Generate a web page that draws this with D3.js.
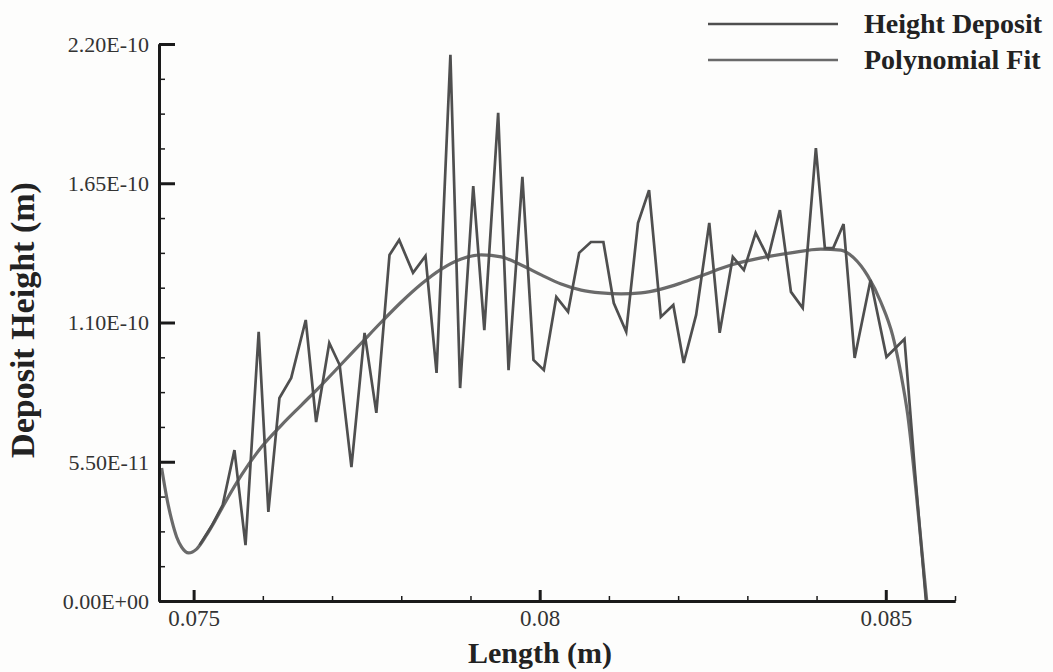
<!DOCTYPE html>
<html>
<head>
<meta charset="utf-8">
<script src="https://cdn.jsdelivr.net/npm/d3@7"></script>
<style>
  html, body { margin: 0; padding: 0; background: #fdfdfc; }
  svg { display: block; }
</style>
</head>
<body>
<script>
// ---- data ----
const depositX = [0.075087,0.07526,0.07542,0.07559,0.07575,0.07594,0.07608,0.07624,0.07641,0.07662,
  0.07677,0.07696,0.07711,0.07728,0.07747,0.07764,0.07783,0.07797,0.07817,0.07835,
  0.07851,0.07871,0.07885,0.07904,0.07920,0.07940,0.07955,0.07975,0.07991,0.08006,
  0.08024,0.08041,0.08057,0.08074,0.08092,0.08107,0.08125,0.08142,0.08158,0.08175,
  0.08193,0.08208,0.08226,0.08245,0.08260,0.08279,0.08295,0.08312,0.08330,0.08347,
  0.08363,0.08380,0.08399,0.08412,0.08424,0.08439,0.08455,0.08478,0.08501,0.08527,
  0.08542,0.08558];
const depositY = [22.1e-12,29.6e-12,37.9e-12,59.6e-12,22.1e-12,106.3e-12,35.2e-12,80.2e-12,88.1e-12,111.0e-12,
  70.7e-12,101.9e-12,93.2e-12,52.9e-12,105.9e-12,74.3e-12,136.7e-12,142.6e-12,129.6e-12,136.3e-12,
  90.1e-12,215.7e-12,84.1e-12,163.9e-12,107.0e-12,192.8e-12,91.2e-12,167.5e-12,95.2e-12,91.2e-12,
  120.1e-12,114.2e-12,137.5e-12,141.8e-12,141.8e-12,117.7e-12,106.3e-12,149.3e-12,162.3e-12,112.2e-12,
  116.9e-12,94.0e-12,113.0e-12,149.3e-12,105.9e-12,135.9e-12,130.7e-12,145.4e-12,135.5e-12,154.4e-12,
  122.1e-12,115.7e-12,178.9e-12,139.4e-12,139.4e-12,148.9e-12,96.0e-12,126.8e-12,96.4e-12,103.5e-12,
  51.7e-12,0];

const fitX = [0.074538,0.074610,0.074683,0.074755,0.074827,0.074928,0.075043,0.075188,0.075332,0.075476,
  0.075693,0.075981,0.076270,0.076558,0.076847,0.077136,0.077424,0.077713,0.078001,0.078290,
  0.078579,0.078867,0.079156,0.079444,0.079733,0.080022,0.080310,0.080599,0.080887,0.081176,
  0.081465,0.081753,0.082042,0.082330,0.082763,0.083196,0.083629,0.084062,0.084351,0.084538,
  0.084740,0.084928,0.085101,0.085216,0.085317,0.085433,0.085548,0.085592];
const fitY = [52.5e-12,41.1e-12,32.0e-12,25.3e-12,21.3e-12,19.0e-12,20.5e-12,26.1e-12,32.8e-12,39.9e-12,
  49.8e-12,60.8e-12,69.5e-12,77.4e-12,85.3e-12,93.6e-12,101.9e-12,110.2e-12,118.1e-12,125.2e-12,
  131.1e-12,135.1e-12,136.7e-12,135.9e-12,132.7e-12,128.8e-12,125.2e-12,122.8e-12,121.7e-12,121.3e-12,
  121.7e-12,123.2e-12,125.6e-12,128.4e-12,132.7e-12,135.5e-12,137.5e-12,139.0e-12,138.6e-12,135.5e-12,
  128.4e-12,118.1e-12,104.7e-12,90.1e-12,73.5e-12,44.6e-12,12.2e-12,0];

const xMajorTicks = [0.075, 0.08, 0.085];
const xTickLabels = ["0.075", "0.08", "0.085"];
const xMinorTicks = [0.076, 0.077, 0.078, 0.079, 0.081, 0.082, 0.083, 0.084, 0.086];
const yMajorTicks = [0, 5.5e-11, 1.1e-10, 1.65e-10, 2.2e-10];
const yTickLabels = ["0.00E+00", "5.50E-11", "1.10E-10", "1.65E-10", "2.20E-10"];
const yMinorTicks = [1.375e-11, 2.75e-11, 4.125e-11, 6.875e-11, 8.25e-11, 9.625e-11,
  1.2375e-10, 1.375e-10, 1.5125e-10, 1.7875e-10, 1.925e-10, 2.0625e-10];
const seriesNames = ["Height Deposit", "Polynomial Fit"];
const xTitle = "Length (m)";
const yTitle = "Deposit Height (m)";

// ---- drawing ----
const W = 1053, H = 672;
const svg = d3.select("body").append("svg").attr("width", W).attr("height", H);
svg.append("rect").attr("width", W).attr("height", H).attr("fill", "#fdfdfc");

const x = d3.scaleLinear().domain([0.0745, 0.086]).range([159, 955]);
const y = d3.scaleLinear().domain([0, 2.2e-10]).range([601, 44]);

const serif = "'Liberation Serif', 'Times New Roman', serif";
const deposit = depositX.map((d, i) => [d, depositY[i]]);
const fit = fitX.map((d, i) => [d, fitY[i]]);

const colDeposit = "#4f4f4f", colFit = "#6a6a6a";

// lines
svg.append("path").datum(fit)
  .attr("fill", "none").attr("stroke", colFit).attr("stroke-width", 3.2)
  .attr("stroke-linejoin", "round")
  .attr("d", d3.line().x(d => x(d[0])).y(d => y(d[1])).curve(d3.curveMonotoneX));
svg.append("path").datum(deposit)
  .attr("fill", "none").attr("stroke", colDeposit).attr("stroke-width", 2.7)
  .attr("stroke-linejoin", "miter")
  .attr("d", d3.line().x(d => x(d[0])).y(d => y(d[1])));

// axes
const gx = svg.append("g").attr("transform", `translate(0,${y(0)})`);
gx.call(d3.axisBottom(x).tickValues(xMajorTicks).tickSize(-11).tickSizeOuter(0)
  .tickPadding(9).tickFormat((d, i) => xTickLabels[i]));
const gxm = svg.append("g").attr("transform", `translate(0,${y(0)})`);
gxm.call(d3.axisBottom(x).tickValues(xMinorTicks).tickSize(-5).tickSizeOuter(0).tickFormat(""));

const gy = svg.append("g").attr("transform", `translate(${x.range()[0]},0)`);
gy.call(d3.axisLeft(y).tickValues(yMajorTicks).tickSize(-16).tickSizeOuter(0)
  .tickPadding(10).tickFormat((d, i) => yTickLabels[i]));
const gym = svg.append("g").attr("transform", `translate(${x.range()[0]},0)`);
gym.call(d3.axisLeft(y).tickValues(yMinorTicks).tickSize(-6).tickSizeOuter(0).tickFormat(""));

[gx, gxm, gy, gym].forEach(g => {
  g.selectAll(".domain").attr("stroke", "#1a1a1a").attr("stroke-width", 3);
  g.selectAll(".tick line").attr("stroke", "#1a1a1a");
});
gx.selectAll(".tick line").attr("stroke-width", 3);
gy.selectAll(".tick line").attr("stroke-width", 3);
gxm.selectAll(".tick line").attr("stroke-width", 1.5);
gym.selectAll(".tick line").attr("stroke-width", 1.5);

gx.selectAll("text").attr("font-family", serif).attr("font-size", 23).attr("fill", "#333");
gy.selectAll("text").attr("font-family", serif).attr("font-size", 22).attr("fill", "#333")
  .attr("dy", "0.34em");

// titles
svg.append("text").attr("x", 540).attr("y", 663).attr("text-anchor", "middle")
  .attr("font-family", serif).attr("font-weight", "bold").attr("font-size", 30)
  .attr("fill", "#222").text(xTitle);
svg.append("text").attr("transform", "translate(34,320) rotate(-90)").attr("text-anchor", "middle")
  .attr("font-family", serif).attr("font-weight", "bold").attr("font-size", 34)
  .attr("fill", "#222").text(yTitle);

// legend
const legY = [24, 60];
const legCols = [colDeposit, colFit];
seriesNames.forEach((name, i) => {
  svg.append("line").attr("x1", 708).attr("x2", 838).attr("y1", legY[i]).attr("y2", legY[i])
    .attr("stroke", legCols[i]).attr("stroke-width", 2.6);
  svg.append("text").attr("x", 864).attr("y", legY[i]).attr("dy", "0.33em")
    .attr("font-family", serif).attr("font-weight", "bold").attr("font-size", 28)
    .attr("fill", "#222").text(name);
});
</script>
</body>
</html>
